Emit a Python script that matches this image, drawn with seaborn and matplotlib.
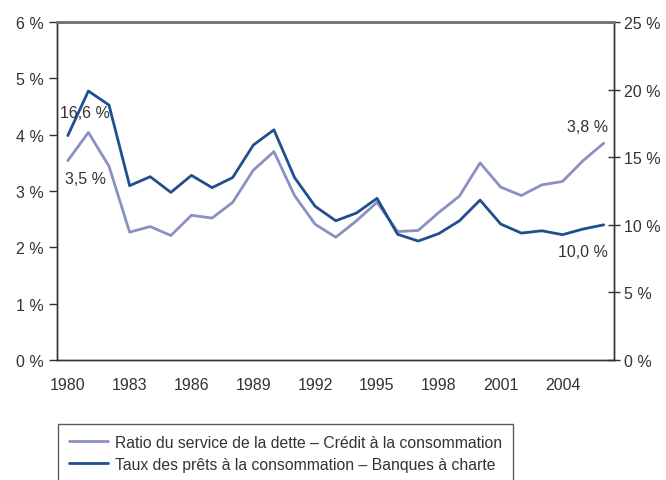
import numpy as np
import pandas as pd
import matplotlib
matplotlib.use("Agg")
import matplotlib.pyplot as plt
import seaborn as sns
from matplotlib.lines import Line2D

# Data
years = list(range(1980, 2007))
ratio_service = [3.54, 4.04, 3.44, 2.27, 2.37, 2.21, 2.57, 2.52, 2.80, 3.37,
                 3.70, 2.92, 2.41, 2.18, 2.47, 2.80, 2.28, 2.30, 2.62, 2.91,
                 3.50, 3.07, 2.92, 3.11, 3.17, 3.54, 3.85]
taux_prets = [16.6, 19.9, 18.86, 12.9, 13.56, 12.4, 13.66, 12.75, 13.5, 15.9,
              17.03, 13.5, 11.37, 10.3, 10.87, 11.96, 9.3, 8.8, 9.35, 10.3,
              11.83, 10.06, 9.39, 9.56, 9.27, 9.69, 10.0]
left_ticks = [0, 1, 2, 3, 4, 5, 6]
right_ticks = [0, 5, 10, 15, 20, 25]
label_years = [1980, 1983, 1986, 1989, 1992, 1995, 1998, 2001, 2004]

light = "#8a90c3"
dark = "#1f4f8e"
txt = "#333333"

df = pd.DataFrame({"annee": years, "ratio": ratio_service, "taux": taux_prets})

sns.set_theme(style="white")
plt.rcParams["font.family"] = ["Liberation Sans", "DejaVu Sans"]

fig = plt.figure(figsize=(6.66, 4.81), dpi=100)
ax = fig.add_axes([0.0863, 0.2495, 0.8357, 0.7025])
ax2 = ax.twinx()

sns.lineplot(data=df, x="annee", y="ratio", ax=ax, color=light, linewidth=2)
sns.lineplot(data=df, x="annee", y="taux", ax=ax2, color=dark, linewidth=2)

ax.set_xlim(years[0] - 0.5, years[-1] + 0.5)
ax.set_ylim(0, 6)
ax2.set_ylim(0, 25)

ax.set_xticks(label_years)
ax.set_xticklabels([str(y) for y in label_years])
ax.set_xticks(np.arange(years[0] - 0.5, years[-1] + 1), minor=True)
ax.tick_params(axis="x", which="major", length=0, pad=12, labelsize=11.5, labelcolor=txt)
ax.tick_params(axis="x", which="minor", length=5, width=1, color="#333333", direction="out")

ax.set_yticks(left_ticks)
ax.set_yticklabels([f"{v} %" for v in left_ticks])
ax.tick_params(axis="y", length=6, width=1, color="#333333", direction="out",
               labelsize=11.5, labelcolor=txt, left=True, pad=4)
ax2.set_yticks(right_ticks)
ax2.set_yticklabels([f"{v} %" for v in right_ticks])
ax2.tick_params(axis="y", length=9, width=1, color="#333333", direction="inout",
                labelsize=11.5, labelcolor=txt, right=True, pad=3)

for a in (ax, ax2):
    a.set_xlabel("")
    a.set_ylabel("")
    for s in ("left", "right", "bottom"):
        a.spines[s].set_color("#333333")
        a.spines[s].set_linewidth(1)
    a.spines["top"].set_color("#777777")
    a.spines["top"].set_linewidth(2)

# annotations
ax2.text(1980.85, 18.3, "16,6 %", ha="center", va="center", fontsize=11.5, color=txt)
ax.text(1980.85, 3.22, "3,5 %", ha="center", va="center", fontsize=11.5, color=txt)
ax.text(2005.2, 4.14, "3,8 %", ha="center", va="center", fontsize=11.5, color=txt)
ax2.text(2005.0, 8.06, "10,0 %", ha="center", va="center", fontsize=11.5, color=txt)

handles = [Line2D([], [], color=light, linewidth=2),
           Line2D([], [], color=dark, linewidth=2)]
labels = ["Ratio du service de la dette \u2013 Cr\u00e9dit \u00e0 la consommation",
          "Taux des pr\u00eats \u00e0 la consommation \u2013 Banques \u00e0 charte"]
leg = fig.legend(handles, labels, loc="upper left", bbox_to_anchor=(0.087, 0.117),
                 fontsize=11.3, frameon=True, fancybox=False, borderpad=0.7,
                 handlelength=2.5, handletextpad=0.45, labelspacing=0.45,
                 borderaxespad=0)
leg.get_frame().set_edgecolor("#333333")
leg.get_frame().set_linewidth(1)
for t in leg.get_texts():
    t.set_color(txt)

fig.savefig("out.png", dpi=100)
